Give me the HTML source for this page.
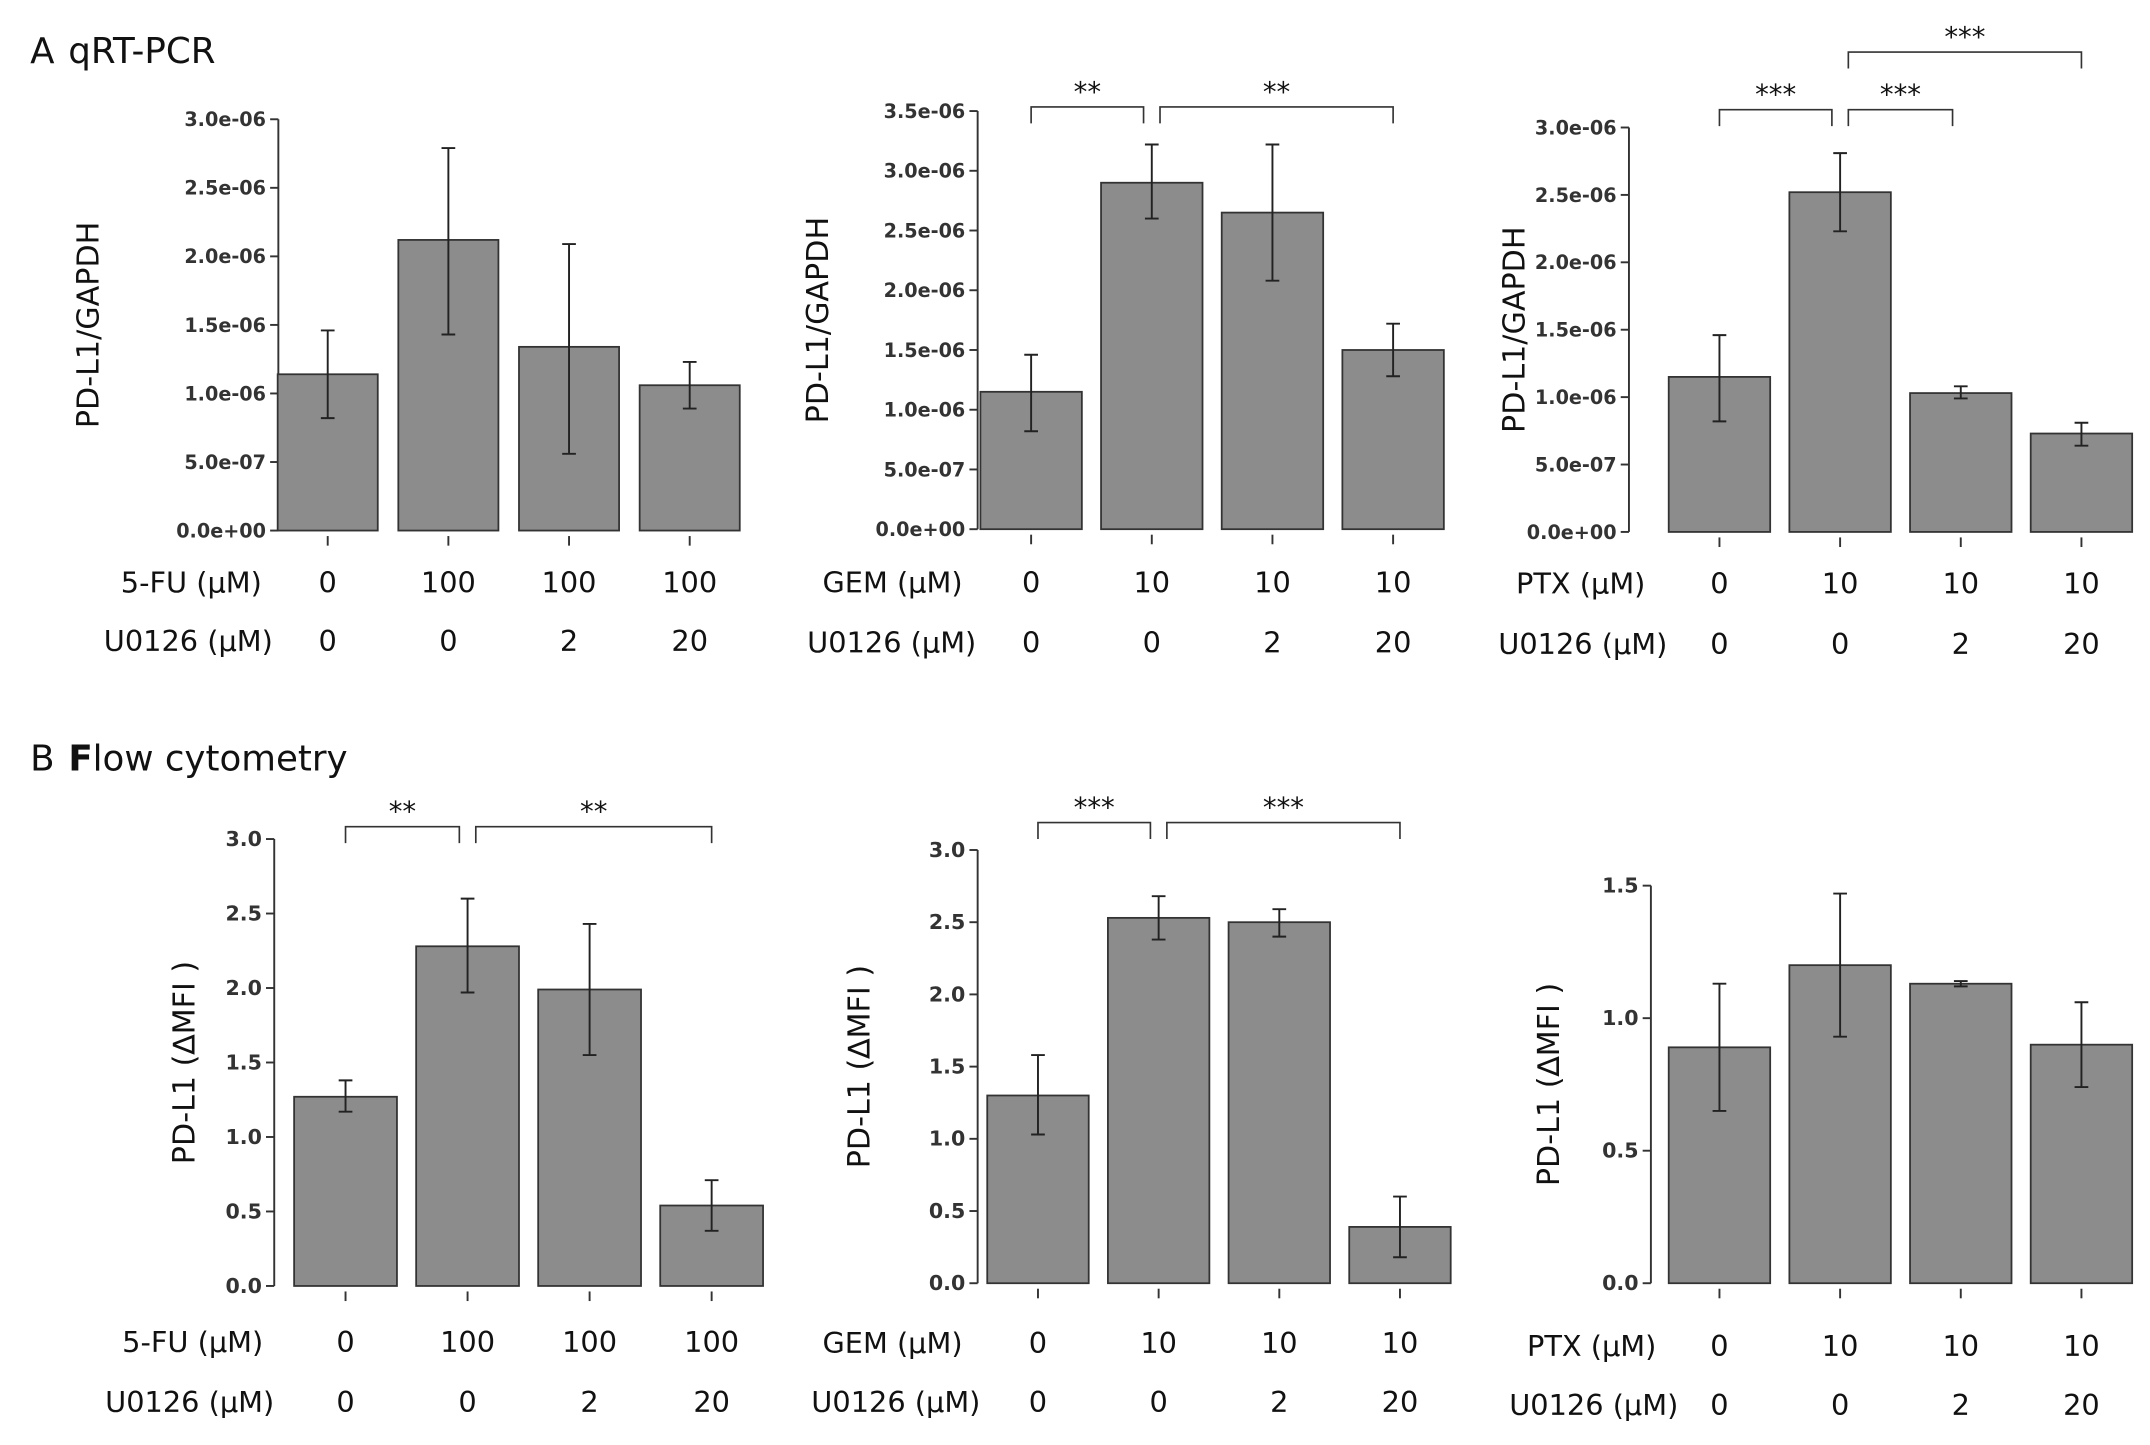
<!DOCTYPE html>
<html><head><meta charset="utf-8"><style>
html,body{margin:0;padding:0;background:#fff;}
svg{display:block;font-family:"DejaVu Sans","Liberation Sans",sans-serif;}
</style></head><body>
<svg id="fig" width="2150" height="1445" viewBox="0 0 1568 1054" preserveAspectRatio="none" xmlns="http://www.w3.org/2000/svg">
<text x="22" y="46" font-size="26" fill="#111">A<tspan dx="10">qRT-PCR</tspan></text>
<text x="22" y="562" font-size="26" fill="#111">B<tspan dx="10" font-weight="bold">F</tspan><tspan>low cytometry</tspan></text>
</svg>
<script>
// ---- data ----
const drugRowA1 = ["0","100","100","100"];
const drugRowA2 = ["0","10","10","10"];
const drugRowA3 = ["0","10","10","10"];
const u0126Row = ["0","0","2","20"];
const a1Values = [1.14, 2.12, 1.34, 1.06];
const a1Upper = [1.46, 2.79, 2.09, 1.23];
const a1Lower = [0.82, 1.43, 0.56, 0.89];
const a1Ticks = ["0.0e+00","5.0e-07","1.0e-06","1.5e-06","2.0e-06","2.5e-06","3.0e-06"];
const a2Values = [1.15, 2.90, 2.65, 1.50];
const a2Upper = [1.46, 3.22, 3.22, 1.72];
const a2Lower = [0.82, 2.60, 2.08, 1.28];
const a2Ticks = ["0.0e+00","5.0e-07","1.0e-06","1.5e-06","2.0e-06","2.5e-06","3.0e-06","3.5e-06"];
const a3Values = [1.15, 2.52, 1.03, 0.73];
const a3Upper = [1.46, 2.81, 1.08, 0.81];
const a3Lower = [0.82, 2.23, 0.99, 0.64];
const a3Ticks = ["0.0e+00","5.0e-07","1.0e-06","1.5e-06","2.0e-06","2.5e-06","3.0e-06"];
const b1Values = [1.27, 2.28, 1.99, 0.54];
const b1Upper = [1.38, 2.60, 2.43, 0.71];
const b1Lower = [1.17, 1.97, 1.55, 0.37];
const b1Ticks = ["0.0","0.5","1.0","1.5","2.0","2.5","3.0"];
const b2Values = [1.30, 2.53, 2.50, 0.39];
const b2Upper = [1.58, 2.68, 2.59, 0.60];
const b2Lower = [1.03, 2.38, 2.40, 0.18];
const b2Ticks = ["0.0","0.5","1.0","1.5","2.0","2.5","3.0"];
const b3Values = [0.89, 1.20, 1.13, 0.90];
const b3Upper = [1.13, 1.47, 1.14, 1.06];
const b3Lower = [0.65, 0.93, 1.12, 0.74];
const b3Ticks = ["0.0","0.5","1.0","1.5"];
// significance brackets: [fromIndex, toIndex, label, level]
const a2Sig = [[0,1,"**",0],[1,3,"**",0]];
const a3Sig = [[0,1,"***",0],[1,2,"***",0],[1,3,"***",1]];
const b1Sig = [[0,1,"**",0],[1,3,"**",0]];
const b2Sig = [[0,1,"***",0],[1,3,"***",0]];

const NS="http://www.w3.org/2000/svg";
const svg=document.getElementById('fig');
function mk(tag,attrs,parent){const e=document.createElementNS(NS,tag);for(const k in attrs)e.setAttribute(k,attrs[k]);(parent||svg).appendChild(e);return e;}

function panel(cfg){
  const g=mk('g',{});
  
  
  const n=cfg.ticks.length-1;
  const ymax=cfg.tickMax;
  const y=v=>cfg.y0-(v/ymax)*(cfg.y0-cfg.yTop);
  const x=i=>cfg.c0+i*cfg.step;
  const ax=mk('line',{x1:cfg.ax,x2:cfg.ax,y1:cfg.y0,y2:cfg.yTop,stroke:'#333','stroke-width':1.4},g);
  
  
  cfg.ticks.forEach((t,k)=>{
    const v=k*ymax/n;
    mk('line',{x1:cfg.ax-6,x2:cfg.ax,y1:y(v),y2:y(v),stroke:'#333','stroke-width':1.4},g);
    const tl=mk('text',{x:cfg.ax-9,y:y(v)+5,'font-size':cfg.tickFont,'font-weight':'bold','text-anchor':'end',fill:'#333'},g);
    tl.textContent=t;
    
    
  });
  const yt=mk('text',{x:0,y:0,'font-size':22,'text-anchor':'middle',fill:'#111',transform:`translate(${cfg.ytx},${(cfg.y0+cfg.yTop)/2}) rotate(-90)`},g);
  yt.textContent=cfg.ytitle;
  
  
  cfg.values.forEach((v,i)=>{
    const b=mk('rect',{x:x(i)-cfg.bw/2,y:y(v),width:cfg.bw,height:cfg.y0-y(v),fill:'#8c8c8c',stroke:'#333','stroke-width':1.3},g);
    
    
    const e=mk('path',{d:`M${x(i)} ${y(cfg.upper[i])}V${y(cfg.lower[i])}M${x(i)-5} ${y(cfg.upper[i])}H${x(i)+5}M${x(i)-5} ${y(cfg.lower[i])}H${x(i)+5}`,stroke:'#222','stroke-width':1.4,fill:'none'},g);
    
    
    mk('line',{x1:x(i),x2:x(i),y1:cfg.y0+4,y2:cfg.y0+11,stroke:'#333','stroke-width':1.4},g);
    const l1=mk('text',{x:x(i),y:cfg.row1,'font-size':21,'text-anchor':'middle',fill:'#111'},g);
    l1.textContent=cfg.drugRow[i];
    
    
    const l2=mk('text',{x:x(i),y:cfg.row2,'font-size':21,'text-anchor':'middle',fill:'#111'},g);
    l2.textContent=u0126Row[i];
    
    
  });
  const r1=mk('text',{x:cfg.c0-cfg.r1off,y:cfg.row1,'font-size':21,'text-anchor':'end',fill:'#111'},g);
  r1.textContent=cfg.drug+' (µM)';
  
  
  const r2=mk('text',{x:cfg.c0-cfg.r2off,y:cfg.row2,'font-size':21,'text-anchor':'end',fill:'#111'},g);
  r2.textContent='U0126 (µM)';
  
  
  (cfg.sig||[]).forEach(s=>{
    const by=cfg.sigY-s[3]*cfg.sigStep;
    const xa=x(s[0])+(s[0]>0?6:0), xb=x(s[1])-(s[1]-s[0]===1?6:0);
    const p=mk('path',{d:`M${xa} ${by+12}V${by}H${xb}V${by+12}`,stroke:'#333','stroke-width':1.2,fill:'none'},g);
    
    
    const st=mk('text',{x:(xa+xb)/2,y:by-4,'font-size':20,'text-anchor':'middle',fill:'#111'},g);
    st.textContent=s[2];
    
    
  });
}
panel({name:'chart-a-5fu',ax:203,y0:387,yTop:87,tickMax:3.0,ticks:a1Ticks,c0:239,step:88,bw:73,values:a1Values,upper:a1Upper,lower:a1Lower,ytx:72,ytitle:'PD-L1/GAPDH',tickFont:14,drugRow:drugRowA1,drug:'5-FU',row1:432,row2:475,r1off:48,r2off:40});
panel({name:'chart-a-gem',ax:713,y0:386,yTop:81,tickMax:3.5,ticks:a2Ticks,c0:752,step:88,bw:74,values:a2Values,upper:a2Upper,lower:a2Lower,ytx:604,ytitle:'PD-L1/GAPDH',tickFont:14,drugRow:drugRowA2,drug:'GEM',row1:432,row2:476,r1off:50,r2off:40,sig:a2Sig,sigY:78,sigStep:0});
panel({name:'chart-a-ptx',ax:1188,y0:388,yTop:93,tickMax:3.0,ticks:a3Ticks,c0:1254,step:88,bw:74,values:a3Values,upper:a3Upper,lower:a3Lower,ytx:1112,ytitle:'PD-L1/GAPDH',tickFont:14,drugRow:drugRowA3,drug:'PTX',row1:433,row2:477,r1off:54,r2off:38,sig:a3Sig,sigY:80,sigStep:42});
panel({name:'chart-b-5fu',ax:200,y0:938,yTop:612,tickMax:3.0,ticks:b1Ticks,c0:252,step:89,bw:75,values:b1Values,upper:b1Upper,lower:b1Lower,ytx:142,ytitle:'PD-L1 (∆MFI )',tickFont:15,drugRow:drugRowA1,drug:'5-FU',row1:986,row2:1030,r1off:60,r2off:52,sig:b1Sig,sigY:603,sigStep:0});
panel({name:'chart-b-gem',ax:713,y0:936,yTop:620,tickMax:3.0,ticks:b2Ticks,c0:757,step:88,bw:74,values:b2Values,upper:b2Upper,lower:b2Lower,ytx:634,ytitle:'PD-L1 (∆MFI )',tickFont:15,drugRow:drugRowA2,drug:'GEM',row1:987,row2:1030,r1off:55,r2off:42,sig:b2Sig,sigY:600,sigStep:0});
panel({name:'chart-b-ptx',ax:1204,y0:936,yTop:646,tickMax:1.5,ticks:b3Ticks,c0:1254,step:88,bw:74,values:b3Values,upper:b3Upper,lower:b3Lower,ytx:1137,ytitle:'PD-L1 (∆MFI )',tickFont:15,drugRow:drugRowA3,drug:'PTX',row1:989,row2:1032,r1off:46,r2off:30});
</script>
</body></html>
